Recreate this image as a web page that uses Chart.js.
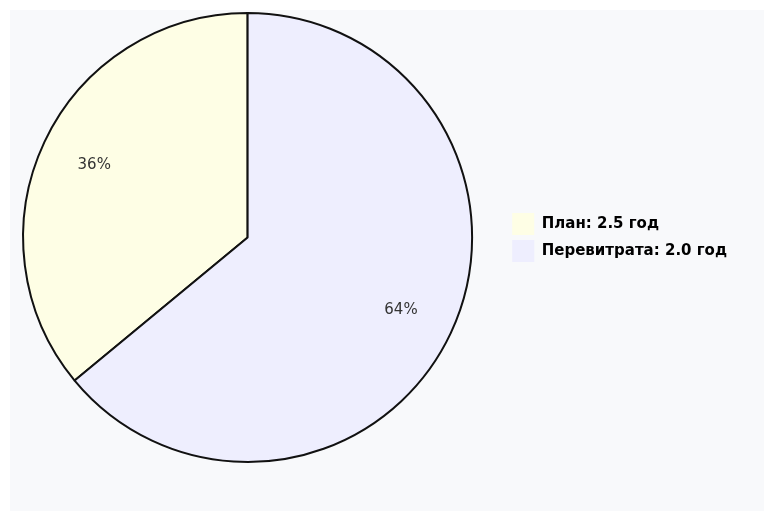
<!DOCTYPE html>
<html>
<head>
<meta charset="utf-8">
<script src="https://cdn.jsdelivr.net/npm/chart.js@4/dist/chart.umd.min.js"></script>
<style>
  html, body { margin: 0; padding: 0; background: #ffffff; }
  #panel { position: absolute; left: 10px; top: 10px; width: 754px; height: 501px; background: #F8F9FB; overflow: hidden; }
  #wrap { position: absolute; left: -22px; top: 0; width: 764px; height: 501px; }
</style>
</head>
<body>
<div id="panel"><div id="wrap"><canvas id="c"></canvas></div></div>
<script>
const categories = ['План: 2.5 год', 'Перевитрата: 2.0 год'];
const shares = [36, 64];
const percentLabels = ['36%', '64%'];
const sliceColors = ['#FEFEE5', '#EEEEFE'];

const pctPlugin = {
  id: 'pctLabels',
  afterDatasetsDraw(chart) {
    const ctx = chart.ctx;
    const meta = chart.getDatasetMeta(0);
    ctx.save();
    ctx.font = '15px "DejaVu Sans"';
    ctx.fillStyle = '#333333';
    ctx.textAlign = 'center';
    ctx.textBaseline = 'middle';
    meta.data.forEach((arc, i) => {
      const p = arc.getProps(['x', 'y', 'startAngle', 'endAngle', 'outerRadius'], true);
      const mid = (p.startAngle + p.endAngle) / 2;
      const r = p.outerRadius * 0.755;
      ctx.fillText(percentLabels[i], p.x + Math.cos(mid) * r, p.y + Math.sin(mid) * r);
    });
    ctx.restore();
  }
};

new Chart(document.getElementById('c'), {
  type: 'pie',
  data: {
    labels: categories,
    datasets: [{
      data: shares,
      backgroundColor: sliceColors,
      borderColor: '#111111',
      borderWidth: 2
    }]
  },
  options: {
    responsive: true,
    maintainAspectRatio: false,
    animation: false,
    rotation: -129.6,
    layout: { padding: { top: 2, bottom: 48, left: 0, right: 15 } },
    plugins: {
      tooltip: { enabled: false },
      legend: {
        position: 'right',
        labels: {
          boxWidth: 22,
          boxHeight: 22,
          padding: 5,
          color: '#222222',
          font: { family: '"DejaVu Sans"', size: 15, weight: 'bold' },
          generateLabels(chart) {
            const ds = chart.data.datasets[0];
            return chart.data.labels.map((l, i) => ({
              text: l,
              fillStyle: ds.backgroundColor[i],
              strokeStyle: ds.backgroundColor[i],
              lineWidth: 0,
              index: i,
              hidden: false
            }));
          }
        }
      }
    }
  },
  plugins: [pctPlugin]
});
</script>
</body>
</html>
